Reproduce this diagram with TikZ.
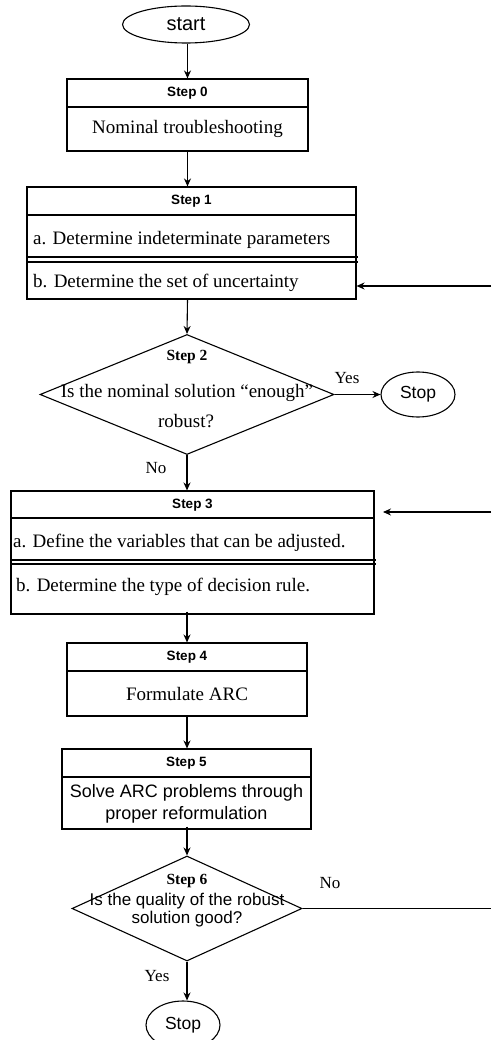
\documentclass[tikz,border=0pt]{standalone}
\usepackage{fontspec}
\setmainfont{Liberation Serif}
\setsansfont{Liberation Sans}
\usetikzlibrary{shapes.geometric,arrows.meta}
\tikzset{
  shapebox/.style={draw, line width=1.1pt, rectangle, inner sep=0pt},
  dia/.style={draw, line width=1.1pt, diamond, inner sep=0pt},
  oval/.style={draw, line width=1.1pt, ellipse, inner sep=0pt, font=\sffamily\fontsize{17.5}{20}\selectfont},
  hdr/.style={inner sep=0pt, font=\sffamily\bfseries\fontsize{13.5}{16}\selectfont},
  body/.style={inner sep=0pt, font=\fontsize{19}{22}\selectfont},
  lbody/.style={inner sep=0pt, anchor=west, font=\fontsize{19}{22}\selectfont},
  sbody/.style={inner sep=0pt, align=center, font=\sffamily\fontsize{18}{22}\selectfont},
  shdr/.style={inner sep=0pt, font=\bfseries\fontsize{15.5}{18}\selectfont},
  lbl/.style={inner sep=0pt, font=\fontsize{17}{20}\selectfont},
  sep/.style={line width=1.1pt},
  arr/.style={line width=1.1pt, -{Stealth[length=8pt,width=7pt]}},
  plain/.style={line width=1.1pt}
}
\begin{document}
\begin{tikzpicture}[x=1pt,y=-1pt]
\useasboundingbox (0,0) rectangle (491,1040);
\clip (0,0) rectangle (491,1040);
% start
\node[oval, minimum width=127pt, minimum height=37pt, font=\sffamily\fontsize{20}{22}\selectfont] (start) at (186,24.5) {start};
% step 0
\node[shapebox, minimum width=241pt, minimum height=72pt] (s0) at (187.5,115) {};
\node[hdr] (s0h) at (187.5,93) {Step 0};
\draw[sep] (67,107) -- (308,107);
\node[body] (s0b) at (187.5,128.5) {Nominal troubleshooting};
% step 1
\node[shapebox, minimum width=329pt, minimum height=112pt] (s1) at (191.5,243) {};
\node[hdr] (s1h) at (191.5,201) {Step 1};
\draw[sep] (27,215) -- (356,215);
\node[lbody] (s1a) at (33,240) {a. Determine indeterminate parameters};
\draw[sep] (27,257) -- (358,257);
\draw[sep] (27,262) -- (358,262);
\node[lbody] (s1b) at (33,283) {b. Determine the set of uncertainty};
% step 2
\node[dia, minimum width=294pt, minimum height=120pt, aspect=2.45] (d2) at (187,394.5) {};
\node[shdr] (d2h) at (187,357) {Step 2};
\node[body] (d2a) at (187,393) {Is the nominal solution “enough”};
\node[body] (d2b) at (186,421) {robust?};
\node[oval, minimum width=74pt, minimum height=45pt] (stop1) at (418,394.5) {Stop};
% step 3
\node[shapebox, minimum width=363pt, minimum height=123pt] (s3) at (192.5,552.5) {};
\node[hdr] (s3h) at (192.5,505) {Step 3};
\draw[sep] (11,518) -- (374,518);
\node[lbody] (s3a) at (13,543) {a. Define the variables that can be adjusted.};
\draw[sep] (11,560) -- (376,560);
\draw[sep] (11,564) -- (376,564);
\node[lbody] (s3b) at (16,587) {b. Determine the type of decision rule.};
% step 4
\node[shapebox, minimum width=240pt, minimum height=73pt] (s4) at (187,679.5) {};
\node[hdr] (s4h) at (187,657) {Step 4};
\draw[sep] (67,671) -- (307,671);
\node[body] (s4b) at (187,693.5) {Formulate ARC};
% step 5
\node[shapebox, minimum width=249pt, minimum height=80pt] (s5) at (186.5,789) {};
\node[hdr] (s5h) at (186.5,763) {Step 5};
\draw[sep] (62,777) -- (311,777);
\node[sbody] (s5b) at (186.5,803.5) {Solve ARC problems through\\proper reformulation};
% step 6
\node[dia, minimum width=230pt, minimum height=105pt, aspect=2.19] (d6) at (187,908.5) {};
\node[shdr] (d6h) at (187,881) {Step 6};
\node[sbody, font=\sffamily\fontsize{17}{18}\selectfont] (d6b) at (187,910.5) {Is the quality of the robust\\solution good?};
\node[oval, minimum width=74pt, minimum height=48pt] (stop2) at (183,1025) {Stop};
% labels
\node[lbl] (yes1) at (347,378) {Yes};
\node[lbl] (no1) at (156,468) {No};
\node[lbl] (no2) at (330,883) {No};
\node[lbl] (yes2) at (157,976) {Yes};
% coordinates
\coordinate (r1) at (491,286);
\coordinate (r3) at (491,512);
\coordinate (r3e) at (383,512);
\coordinate (r6) at (491,908.5);
% connectors
\draw[arr] (start.south -| s0.north) -- (s0.north);
\draw[arr] (s0.south) -- (s0.south |- s1.north);
\draw[arr] (s0.south |- s1.south) -- (d2.north);
\draw[arr] (r1) -- (s1.east |- r1);
\draw[arr] (d2.east) -- (stop1.west);
\draw[arr] (d2.south) -- (d2.south |- s3.north);
\draw[arr] (r3) -- (r3e);
\draw[arr] ([yshift=3pt]s3.south -| s4.north) -- (s4.north);
\draw[arr] (s4.south) -- (s4.south |- s5.north);
\draw[arr] ([yshift=3pt]s5.south -| d6.north) -- (d6.north);
\draw[plain] (d6.east) -- (r6);
\draw[arr] (d6.south) -- (d6.south |- stop2.north);
\end{tikzpicture}
\end{document}
